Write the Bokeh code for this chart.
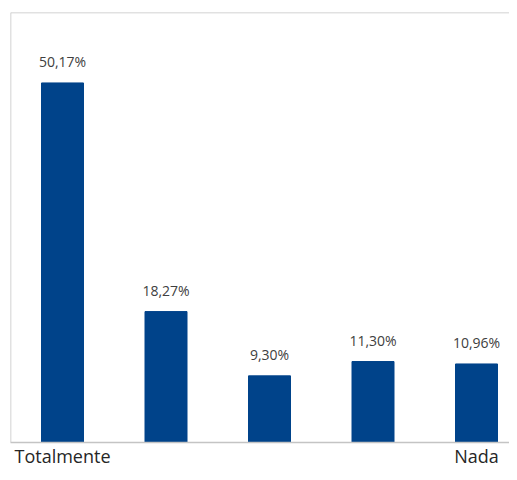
from bokeh.plotting import figure
from bokeh.models import ColumnDataSource, Range1d, Span, LinearAxis, FixedTicker
from bokeh.embed import file_html
from bokeh.resources import INLINE
from bokeh.core.properties import value

categories = ["Totalmente", "", "", "", "Nada"]
values = [50.17, 18.27, 9.30, 11.30, 10.96]
value_labels = ["50,17%", "18,27%", "9,30%", "11,30%", "10,96%"]

xs = list(range(1, len(values) + 1))
src = ColumnDataSource(dict(x=xs, top=values, lab=value_labels))

x_start = 1 - 52 / 103.5
y_top = 60

p = figure(width=509, height=472, output_backend="svg", toolbar_location=None,
           x_range=Range1d(x_start, x_start + 499 / 103.5),
           y_range=Range1d(0, y_top),
           min_border_left=10, min_border_right=0, min_border_top=12, min_border_bottom=30,
           x_axis_location=None, y_axis_location=None)
p.outline_line_color = None
p.xgrid.visible = False
p.ygrid.visible = False

p.vbar(x="x", top="top", width=42 / 103.5, source=src, fill_color="#00438A",
       line_color="#00438A")
p.text(x="x", y="top", text="lab", source=src, text_align="center",
       text_baseline="alphabetic", y_offset=-21, text_font=value("Open Sans"),
       text_font_size="14px", text_color="#404040")

line_col = "#C4C4C4"

xa = LinearAxis(ticker=FixedTicker(ticks=xs),
                major_label_overrides={x: c for x, c in zip(xs, categories)})
xa.axis_line_color = line_col
xa.axis_line_width = 1.5
xa.major_tick_line_color = None
xa.minor_tick_line_color = None
xa.major_tick_out = 0
xa.major_tick_in = 0
xa.major_label_standoff = 1
xa.major_label_text_font = "Open Sans"
xa.major_label_text_font_size = "18px"
xa.major_label_text_color = "#262626"
p.add_layout(xa, "below")

p.add_layout(Span(location=y_top, dimension="width", line_color=line_col, line_width=1.5))
p.add_layout(Span(location=x_start, dimension="height", line_color=line_col, line_width=1.5))

open("out.html", "w").write(file_html(p, INLINE))
